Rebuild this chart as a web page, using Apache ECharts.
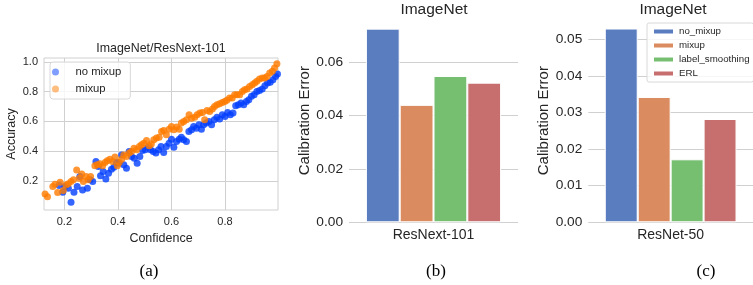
<!DOCTYPE html>
<html>
<head>
<meta charset="utf-8">
<script src="https://cdn.jsdelivr.net/npm/echarts@6/dist/echarts.min.js"></script>
<style>
  html, body { margin: 0; padding: 0; background: #fff; }
  #chart { width: 753px; height: 285px; }
</style>
</head>
<body>
<div id="chart"></div>
<script>
/* ---------- data ---------- */
// (a) reliability scatter: [confidence, accuracy]
const noMixup = [
  [0.181,0.169],[0.194,0.124],[0.202,0.162],[0.215,0.151],[0.225,0.056],[0.236,0.124],
  [0.248,0.162],[0.258,0.229],[0.268,0.139],[0.286,0.151],[0.296,0.207],[0.306,0.196],
  [0.318,0.330],[0.327,0.297],[0.335,0.234],[0.345,0.263],[0.355,0.213],[0.365,0.252],
  [0.376,0.279],[0.385,0.292],[0.395,0.324],[0.405,0.319],[0.414,0.375],[0.422,0.308],
  [0.432,0.285],[0.442,0.398],[0.451,0.364],[0.461,0.353],[0.472,0.319],[0.482,0.364],
  [0.492,0.404],[0.502,0.409],[0.513,0.427],[0.522,0.409],[0.532,0.398],[0.542,0.387],
  [0.552,0.409],[0.561,0.431],[0.571,0.391],[0.581,0.431],[0.591,0.454],[0.600,0.481],
  [0.609,0.427],[0.619,0.465],[0.629,0.481],[0.637,0.494],[0.646,0.476],[0.656,0.465],
  [0.665,0.533],[0.675,0.544],[0.683,0.566],[0.693,0.555],[0.703,0.578],[0.712,0.548],
  [0.720,0.578],[0.730,0.589],[0.740,0.600],[0.750,0.578],[0.760,0.611],[0.770,0.629],
  [0.780,0.616],[0.790,0.645],[0.800,0.634],[0.810,0.661],[0.820,0.645],[0.830,0.656],
  [0.840,0.706],[0.850,0.712],[0.860,0.724],[0.870,0.712],[0.880,0.735],[0.889,0.746],
  [0.899,0.769],[0.909,0.780],[0.919,0.802],[0.929,0.809],[0.939,0.818],[0.949,0.840],
  [0.959,0.858],[0.969,0.863],[0.979,0.881],[0.989,0.903],[0.996,0.919]
];
const mixup = [
  [0.128,0.112],[0.137,0.094],[0.157,0.162],[0.165,0.178],[0.175,0.121],[0.184,0.191],
  [0.196,0.135],[0.206,0.173],[0.215,0.180],[0.225,0.196],[0.234,0.207],[0.246,0.274],
  [0.256,0.218],[0.265,0.247],[0.271,0.196],[0.281,0.229],[0.289,0.207],[0.298,0.229],
  [0.314,0.301],[0.323,0.308],[0.333,0.315],[0.343,0.301],[0.352,0.324],[0.360,0.335],
  [0.370,0.346],[0.380,0.330],[0.389,0.360],[0.398,0.301],[0.405,0.324],[0.414,0.346],
  [0.422,0.375],[0.432,0.364],[0.442,0.387],[0.451,0.398],[0.460,0.420],[0.470,0.409],
  [0.480,0.431],[0.488,0.443],[0.497,0.454],[0.507,0.472],[0.517,0.436],[0.525,0.449],
  [0.534,0.476],[0.544,0.488],[0.554,0.494],[0.563,0.533],[0.571,0.539],[0.581,0.510],
  [0.591,0.548],[0.600,0.566],[0.609,0.544],[0.619,0.562],[0.629,0.548],[0.637,0.589],
  [0.646,0.600],[0.656,0.611],[0.666,0.645],[0.675,0.622],[0.687,0.629],[0.696,0.645],
  [0.706,0.656],[0.716,0.661],[0.724,0.611],[0.733,0.674],[0.743,0.667],[0.753,0.683],
  [0.761,0.701],[0.770,0.712],[0.780,0.719],[0.790,0.728],[0.799,0.735],[0.807,0.742],
  [0.817,0.757],[0.827,0.757],[0.836,0.780],[0.845,0.780],[0.855,0.780],[0.865,0.802],
  [0.873,0.813],[0.882,0.818],[0.892,0.836],[0.902,0.847],[0.911,0.858],[0.919,0.870],
  [0.929,0.885],[0.939,0.892],[0.948,0.892],[0.957,0.903],[0.967,0.926],[0.977,0.937],
  [0.985,0.960],[0.994,0.989]
];
const scatterXTicks = [0.2, 0.4, 0.6, 0.8];
const scatterYTicks = [0.2, 0.4, 0.6, 0.8, 1.0];

// (b), (c) calibration error bars
const methods = ["no_mixup", "mixup", "label_smoothing", "ERL"];
const resnext101 = [0.0724, 0.0439, 0.0547, 0.0522];
const resnet50 = [0.0529, 0.0342, 0.0172, 0.0282];
const ticksB = [0, 0.02, 0.04, 0.06];
const ticksC = [0, 0.01, 0.02, 0.03, 0.04, 0.05];

/* ---------- style ---------- */
const FONT = "'Liberation Sans', Arial, sans-serif";
const TXT = "#262626";
const GRID = "#d0d0d0";
const barColors = ["#597dbf", "#da8b5f", "#76bf71", "#c76e6e"];

const chart = echarts.init(document.getElementById("chart"));

function valueAxis(idx, min, max, ticks, digits, fontSize, extra) {
  return Object.assign({
    type: "value", gridIndex: idx, min: min, max: max,
    axisLine: { show: false },
    axisTick: { show: false, customValues: ticks },
    axisLabel: {
      customValues: ticks, color: TXT, fontFamily: FONT, fontSize: fontSize, margin: 6,
      formatter: v => v.toFixed(digits)
    },
    splitLine: { show: true, lineStyle: { color: GRID, width: 1 } },
    nameLocation: "middle",
    nameTextStyle: { color: TXT, fontFamily: FONT }
  }, extra);
}

const barSeries = [];
methods.forEach((m, i) => {
  barSeries.push({
    name: m, type: "bar", xAxisIndex: 1, yAxisIndex: 1, data: [resnext101[i]],
    barGap: "0%", barCategoryGap: "20%",
    itemStyle: { color: barColors[i], borderColor: "#fff", borderWidth: 1 }
  });
  barSeries.push({
    name: m, type: "bar", xAxisIndex: 2, yAxisIndex: 2, data: [resnet50[i]],
    barGap: "0%", barCategoryGap: "20%",
    itemStyle: { color: barColors[i], borderColor: "#fff", borderWidth: 1 }
  });
});

const option = {
  animation: false,
  grid: [
    { left: 44, top: 58, width: 234, height: 152, show: true, borderColor: GRID, borderWidth: 1 },
    { left: 349, top: 19, width: 169, height: 203.3 },
    { left: 588.3, top: 19, width: 168.6, height: 203.3 }
  ],
  xAxis: [
    valueAxis(0, 0.124, 0.998, scatterXTicks, 1, 11, {
      name: "Confidence", nameGap: 18,
      nameTextStyle: { color: TXT, fontFamily: FONT, fontSize: 12.5 }
    }),
    {
      type: "category", gridIndex: 1, data: ["ResNext-101"],
      axisLine: { show: false }, axisTick: { show: false },
      axisLabel: { color: TXT, fontFamily: FONT, fontSize: 14, margin: 6 }
    },
    {
      type: "category", gridIndex: 2, data: ["ResNet-50"],
      axisLine: { show: false }, axisTick: { show: false },
      axisLabel: { color: TXT, fontFamily: FONT, fontSize: 14, margin: 6 }
    }
  ],
  yAxis: [
    valueAxis(0, 0.004, 1.027, scatterYTicks, 1, 11, {
      name: "Accuracy", nameGap: 25.5,
      nameTextStyle: { color: TXT, fontFamily: FONT, fontSize: 12.5 }
    }),
    valueAxis(1, 0, 0.076, ticksB, 2, 13.7, {
      name: "Calibration Error", nameGap: 36.5,
      nameTextStyle: { color: TXT, fontFamily: FONT, fontSize: 15 }
    }),
    valueAxis(2, 0, 0.0555, ticksC, 2, 13.7, {
      name: "Calibration Error", nameGap: 36,
      nameTextStyle: { color: TXT, fontFamily: FONT, fontSize: 15 }
    })
  ],
  legend: [
    {
      data: ["a:no mixup", "a:mixup"],
      formatter: n => n.slice(2),
      left: 50, top: 62, orient: "vertical",
      itemWidth: 30, itemHeight: 7, itemGap: 5,
      padding: [4, 9, 4, 2],
      itemStyle: { opacity: 0.5 },
      backgroundColor: "rgba(255,255,255,0.8)",
      borderColor: "#d8d8d8", borderWidth: 1, borderRadius: 3,
      textStyle: { color: TXT, fontFamily: FONT, fontSize: 11.3, lineHeight: 12 }
    },
    {
      data: methods,
      left: 647, top: 23, orient: "vertical",
      icon: "rect", itemWidth: 21, itemHeight: 6, itemGap: 3,
      padding: [3, 4, 3, 5],
      backgroundColor: "rgba(255,255,255,0.8)",
      borderColor: "#d8d8d8", borderWidth: 1, borderRadius: 2,
      textStyle: { color: TXT, fontFamily: FONT, fontSize: 9.7, lineHeight: 11 }
    }
  ],
  series: [
    {
      name: "a:no mixup", type: "scatter", xAxisIndex: 0, yAxisIndex: 0,
      data: noMixup, symbolSize: 7,
      itemStyle: { color: "#023eff", opacity: 0.8 }
    },
    {
      name: "a:mixup", type: "scatter", xAxisIndex: 0, yAxisIndex: 0,
      data: mixup, symbolSize: 7,
      itemStyle: { color: "#ff7c00", opacity: 0.8 }
    }
  ].concat(barSeries),
  graphic: [
    { type: "text", x: 161, y: 49, style: { text: "ImageNet/ResNext-101", fill: TXT, font: "12.4px " + FONT, textAlign: "center", textVerticalAlign: "middle" } },
    { type: "text", x: 434, y: 10, style: { text: "ImageNet", fill: TXT, font: "15.5px " + FONT, textAlign: "center", textVerticalAlign: "middle" } },
    { type: "text", x: 673, y: 10, style: { text: "ImageNet", fill: TXT, font: "15.5px " + FONT, textAlign: "center", textVerticalAlign: "middle" } },
    { type: "text", x: 149, y: 272, style: { text: "(a)", fill: "#000", font: "17px 'Liberation Serif', serif", textAlign: "center", textVerticalAlign: "middle" } },
    { type: "text", x: 436, y: 272, style: { text: "(b)", fill: "#000", font: "17px 'Liberation Serif', serif", textAlign: "center", textVerticalAlign: "middle" } },
    { type: "text", x: 706, y: 272, style: { text: "(c)", fill: "#000", font: "17px 'Liberation Serif', serif", textAlign: "center", textVerticalAlign: "middle" } }
  ]
};

chart.setOption(option);
</script>
</body>
</html>
